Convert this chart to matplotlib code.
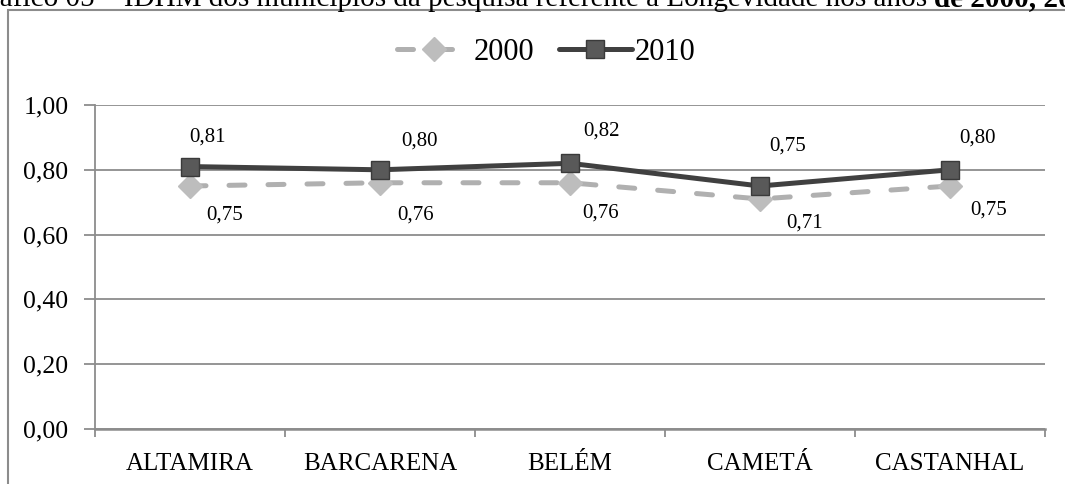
import matplotlib
matplotlib.use("Agg")
import matplotlib.pyplot as plt
from matplotlib.patches import Rectangle

categories = ["ALTAMIRA", "BARCARENA", "BELÉM", "CAMETÁ", "CASTANHAL"]
series_names = ["2000", "2010"]
idhm_2000 = [0.75, 0.76, 0.76, 0.71, 0.75]
idhm_2010 = [0.81, 0.80, 0.82, 0.75, 0.80]
y_ticks = [0.0, 0.2, 0.4, 0.6, 0.8, 1.0]
title_plain = "Gráfico 05 – IDHM dos municípios da pesquisa referente à Longevidade nos anos "
title_bold = "de 2000, 2010"

# data label offsets (pixels) – styling only
off_2000 = [(35, -29), (36, -32), (31, -30), (45, -24), (39, -24)]
off_2010 = [(17, 30), (39, 29), (31, 32), (28, 40), (28, 32)]

plt.rcParams["font.family"] = ["Liberation Serif", "DejaVu Serif"]

W, H = 1065, 484
fig = plt.figure(figsize=(W / 100, H / 100), dpi=100)
fig.patch.set_facecolor("white")

# outer frame (cropped at right and bottom, as in the reference)
fig.patches.append(Rectangle((8 / W, -0.1), 1.2, 1 - 10 / H + 0.1, transform=fig.transFigure,
                             fill=False, edgecolor="#8C8C8C", linewidth=1.5, zorder=0))
# title, cropped at the top edge as in the reference
t1 = fig.text(-31 / W, 1 - 6 / H, title_plain, fontsize=21, va="baseline", ha="left", color="black")
fig.canvas.draw()
bb = t1.get_window_extent()
fig.text(bb.x1 / W, 1 - 6 / H, title_bold, fontsize=21, fontweight="bold",
         va="baseline", ha="left", color="black")

ax = fig.add_axes([95 / W, (H - 429) / H, 950 / W, 324 / H])
x = list(range(len(categories)))

grid_c = "#8C8C8C"
for v in y_ticks:
    ax.axhline(v, color=grid_c, lw=1.3, zorder=1)

l2000, = ax.plot(x, idhm_2000, color="#B0B0B0", lw=3.6, dashes=(3.2, 4.6),
                 dash_capstyle="round", marker="D", markersize=12.5,
                 markerfacecolor="#BDBDBD", markeredgecolor="#BDBDBD", zorder=3)
l2010, = ax.plot(x, idhm_2010, color="#404040", lw=3.6, solid_capstyle="round",
                 marker="s", markersize=13.5, markerfacecolor="#595959",
                 markeredgecolor="#3A3A3A", markeredgewidth=1.0, zorder=4)

def fmt(v):
    return f"{v:.2f}".replace(".", ",")

for i, v in enumerate(idhm_2000):
    ax.annotate(fmt(v), (x[i], v), xytext=off_2000[i], textcoords="offset pixels",
                ha="center", va="center", fontsize=15)
for i, v in enumerate(idhm_2010):
    ax.annotate(fmt(v), (x[i], v), xytext=off_2010[i], textcoords="offset pixels",
                ha="center", va="center", fontsize=15)

ax.set_xlim(-0.5, len(categories) - 0.5)
ax.set_ylim(0, 1.0)
ax.set_yticks(y_ticks)
ax.set_yticklabels([fmt(v) for v in y_ticks], fontsize=18.5)
ax.set_xticks([i - 0.5 for i in range(len(categories) + 1)])
ax.set_xticklabels([])
ax.set_xticks(x, minor=True)
ax.set_xticklabels(categories, minor=True, fontsize=18)
ax.tick_params(axis="x", which="major", length=6, width=1.3, color=grid_c, direction="out")
ax.tick_params(axis="x", which="minor", length=0, pad=17)
ax.tick_params(axis="y", which="major", length=8, width=1.3, color=grid_c, direction="out", pad=11)

for s in ["top", "right"]:
    ax.spines[s].set_visible(False)
ax.spines["left"].set_color(grid_c)
ax.spines["left"].set_linewidth(1.3)
ax.spines["bottom"].set_color(grid_c)
ax.spines["bottom"].set_linewidth(1.8)
ax.set_facecolor("none")

fig.legend([l2000, l2010], series_names, loc="center", bbox_to_anchor=(546.5 / W, 1 - 52 / H),
           ncol=2, frameon=False, fontsize=22, handlelength=2.4, handletextpad=0.1,
           columnspacing=0.8, borderpad=0)

fig.savefig("out.png", dpi=100)
